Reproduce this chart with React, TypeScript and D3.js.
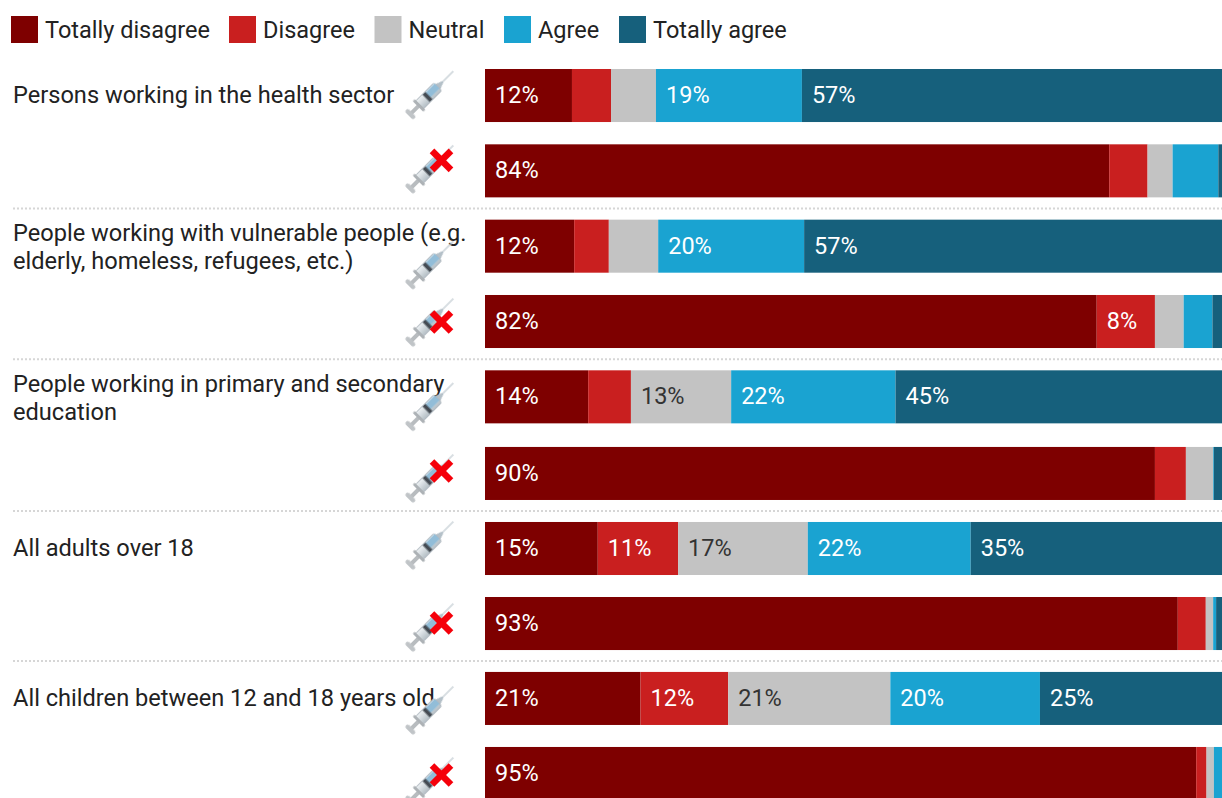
import React from 'react';
import * as d3 from 'd3';

const WIDTH = 1222;
const HEIGHT = 798;

const answers = ['Totally disagree', 'Disagree', 'Neutral', 'Agree', 'Totally agree'];
const answerColors = ['#7e0000', '#c91f1f', '#c3c3c3', '#1aa3d1', '#16607c'];

const groups = [
  ['Persons working in the health sector'],
  ['People working with vulnerable people (e.g.', 'elderly, homeless, refugees, etc.)'],
  ['People working in primary and secondary', 'education'],
  ['All adults over 18'],
  ['All children between 12 and 18 years old'],
];

// two rows per group: vaccinated, then not vaccinated
const rowIds = d3.range(10);
const rowValues = [
  [11.8, 5.3, 6.1, 19.8, 57.0],
  [84.7, 5.2, 3.4, 6.2, 0.5],
  [12.1, 4.7, 6.7, 19.8, 56.7],
  [83.0, 7.9, 3.9, 3.9, 1.3],
  [14.0, 5.8, 13.6, 22.3, 44.3],
  [90.9, 4.2, 3.7, 0.1, 1.1],
  [15.3, 10.9, 17.6, 22.1, 34.1],
  [94.0, 3.8, 1.0, 0.4, 0.8],
  [21.1, 11.9, 22.0, 20.3, 24.7],
  [96.5, 1.4, 1.0, 1.1, 0],
];
const rowLabels = [
  ['12%', '', '', '19%', '57%'],
  ['84%', '', '', '', ''],
  ['12%', '', '', '20%', '57%'],
  ['82%', '8%', '', '', ''],
  ['14%', '', '13%', '22%', '45%'],
  ['90%', '', '', '', ''],
  ['15%', '11%', '17%', '22%', '35%'],
  ['93%', '', '', '', ''],
  ['21%', '12%', '21%', '20%', '25%'],
  ['95%', '', '', '', ''],
];

// layout tweaks, the rows in the original are not evenly spaced
const rowNudge = [0, 0, 0, 0, 0, 1.3, 1, 0.7, 0.3, 0];
const syringeOffsets = [25.5, 24.5, 45, 27, 36, 31, 23, 30, 38, 34];
const crossOffsets = [0, 16, 0, 27, 0, 24, 0, 26, 0, 28];

const x = d3.scaleLinear().domain([0, 100]).range([485, WIDTH]);
const band = d3.scaleBand<number>().domain(rowIds).range([69, 800]).paddingInner(0.296).paddingOuter(0).align(0);
const y = (r: number) => band(r)! + rowNudge[r];
const FONT = 'Roboto, sans-serif';
const FONT_SIZE = 23.6;

const Syringe: React.FC<{ cx: number; cy: number; crossY: number | null }> = ({ cx, cy, crossY }) => (
  <g>
    <g transform={`translate(${cx},${cy}) rotate(-45)`} filter="url(#soft)">
      <line x1={18} x2={33} y1={0} y2={0} stroke="#c3ccd2" strokeWidth={1.3} />
      <path d="M11,-3.5 L18,-1 L18,1 L11,3.5 Z" fill="#b4c0c8" />
      <rect x={-15} y={-5.5} width={26} height={11} rx={1.5} fill="url(#barrel)" stroke="#aab3ba" strokeWidth={0.8} />
      <rect x={-2} y={-4.5} width={13} height={7} fill="#92bdd8" />
      <rect x={-5.5} y={-5} width={4} height={10} fill="#454c53" />
      <rect x={-26} y={-2} width={11} height={4} fill="#b8bcbf" />
      <rect x={-17} y={-7.5} width={3} height={15} rx={1} fill="#adb2b6" />
      <rect x={-30} y={-6} width={4.5} height={12} rx={2.2} fill="#c0c4c7" />
    </g>
    {crossY !== null && (
      <g transform={`translate(${cx + 11.5},${crossY})`} stroke="#f5000a" strokeWidth={6.5}>
        <line x1={-9.5} y1={-9.5} x2={9.5} y2={9.5} />
        <line x1={-9.5} y1={9.5} x2={9.5} y2={-9.5} />
      </g>
    )}
  </g>
);

export default function App() {
  const legendX = [11, 229, 374.5, 504, 619];
  return (
    <svg
      width={WIDTH}
      height={HEIGHT}
      style={{ position: 'absolute', left: 0, top: 0, background: '#fff' }}
      fontFamily={FONT}
    >
      <defs>
        <filter id="soft" x="-20%" y="-40%" width="140%" height="180%">
          <feGaussianBlur stdDeviation="0.7" />
        </filter>
        <linearGradient id="barrel" x1="0" y1="0" x2="0" y2="1">
          <stop offset="0" stopColor="#eef2f4" />
          <stop offset="1" stopColor="#b4bec5" />
        </linearGradient>
      </defs>

      {answers.map((a, i) => (
        <g key={a} transform={`translate(${legendX[i]},16)`}>
          <rect width={27} height={27} fill={answerColors[i]} />
          <text x={34} y={22} fontSize={23.5} fill="#222">{a}</text>
        </g>
      ))}

      {[1, 3, 5, 7].map((i) => {
        const sepY = (y(i) + band.bandwidth() + y(i + 1)) / 2;
        return (
          <line key={i} x1={13} x2={WIDTH} y1={sepY} y2={sepY} stroke="#d6d6d6" strokeWidth={2} strokeDasharray="2 2" />
        );
      })}

      {rowValues.map((vals, r) => {
        const stacked = d3.stack<number[], number>().keys(d3.range(5)).value((d, k) => d[k])([vals]);
        return (
          <g key={r}>
            {stacked.map((s, k) => {
              const [a, b] = s[0];
              return (
                <g key={k}>
                  <rect x={x(a)} y={y(r)} width={Math.max(0, x(Math.min(b, 100)) - x(a))} height={band.bandwidth()} fill={answerColors[k]} />
                  {rowLabels[r][k] && (
                    <text
                      x={x(a) + 10}
                      y={y(r) + band.bandwidth() / 2 + 7.5}
                      fontSize={23.5}
                      fill={k === 2 ? '#333' : '#fff'}
                    >
                      {rowLabels[r][k]}
                    </text>
                  )}
                </g>
              );
            })}
          </g>
        );
      })}

      {groups.map((lines, g) => {
        const r = g * 2;
        const cy = y(r) + (lines.length === 1 ? 34 : 21.5);
        return (
          <text key={g} fontSize={FONT_SIZE} fill="#222">
            {lines.map((l, i) => (
              <tspan key={l} x={13} y={cy + i * 28}>{l}</tspan>
            ))}
          </text>
        );
      })}

      {rowIds.map((r) => (
        <Syringe
          key={r}
          cx={430}
          cy={y(r) + syringeOffsets[r]}
          crossY={r % 2 === 1 ? y(r) + crossOffsets[r] : null}
        />
      ))}
    </svg>
  );
}
